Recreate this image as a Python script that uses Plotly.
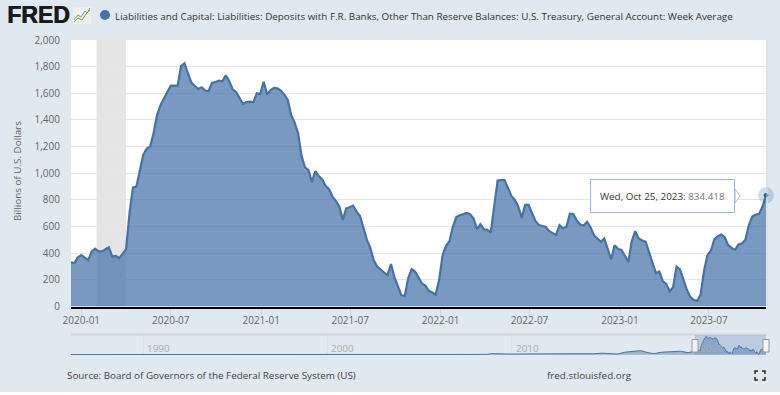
import pandas as pd
import plotly.graph_objects as go

W, H = 780, 392
BG = "#e1e9f0"
BLUE = "#4572a7"
FONT = "Open Sans"

TITLE = "Liabilities and Capital: Liabilities: Deposits with F.R. Banks, Other Than Reserve Balances: U.S. Treasury, General Account: Week Average"
Y_LABEL = "Billions of U.S. Dollars"
SOURCE = "Source: Board of Governors of the Federal Reserve System (US)"
SITE = "fred.stlouisfed.org"
TOOLTIP_DATE = "Wed, Oct 25, 2023:"
TOOLTIP_VALUE = "834.418"

FIRST_WEEK = "2019-12-11"
values = [
    332, 326, 369, 386, 366, 347, 411, 434, 414, 414, 430, 444, 374, 379, 362, 395, 429, 699, 892, 900,
    1020, 1137, 1185, 1200, 1300, 1437, 1510, 1565, 1610, 1657, 1657, 1657, 1805, 1825, 1750, 1680, 1655, 1632, 1645, 1620,
    1617, 1680, 1685, 1695, 1690, 1735, 1690, 1630, 1610, 1570, 1520, 1535, 1537, 1532, 1600, 1595, 1687, 1590, 1625, 1640,
    1637, 1620, 1590, 1550, 1437, 1380, 1300, 1130, 1045, 1025, 935, 1015, 980, 955, 905, 880, 825, 790, 750, 650,
    737, 745, 756, 711, 679, 590, 500, 440, 345, 300, 275, 255, 235, 319, 220, 150, 85, 78, 212, 280,
    262, 220, 172, 157, 118, 105, 88, 200, 385, 455, 490, 600, 672, 685, 695, 702, 692, 660, 580, 617,
    580, 575, 555, 750, 945, 949, 949, 890, 830, 800, 750, 665, 762, 762, 700, 640, 612, 605, 597, 565,
    550, 537, 610, 587, 599, 697, 694, 645, 615, 608, 636, 595, 535, 510, 485, 510, 440, 354, 460, 431,
    425, 385, 335, 491, 565, 510, 495, 487, 410, 335, 250, 262, 190, 170, 115, 145, 299, 278, 200, 125,
    72, 48, 42, 90, 270, 386, 420, 506, 527, 540, 520, 460, 440, 425, 465, 472, 500, 610, 675, 690,
    695, 750, 834.418,
]
dates = pd.date_range(FIRST_WEEK, periods=len(values), freq="7D")

history_dates = [
    "1986-01-01", "1995-01-01", "2003-01-01", "2007-06-01", "2008-09-01", "2008-12-01", "2009-06-01",
    "2010-01-01", "2011-01-01", "2012-01-01", "2013-01-01", "2013-10-01", "2014-06-01", "2014-12-01",
    "2015-06-01", "2015-10-01", "2016-03-01", "2016-09-01", "2017-01-01", "2017-06-01", "2017-10-01",
    "2018-03-01", "2018-09-01", "2019-03-01", "2019-08-01",
]
history_values = [
    10, 10, 10, 10, 30, 100, 70,
    60, 80, 70, 50, 60, 90, 150,
    140, 70, 250, 350, 400, 200, 110,
    250, 320, 340, 200,
]
nav_dates = list(pd.to_datetime(history_dates)) + list(dates)
nav_values = history_values + values

y_ticks = list(range(0, 2001, 200))
x_ticks = ["2020-01-01", "2020-07-01", "2021-01-01", "2021-07-01", "2022-01-01", "2022-07-01", "2023-01-01", "2023-07-01"]
x_tick_labels = ["2020-01", "2020-07", "2021-01", "2021-07", "2022-01", "2022-07", "2023-01", "2023-07"]
nav_ticks = ["1990-01-01", "2000-01-01", "2010-01-01", "2020-01-01"]
nav_tick_labels = ["1990", "2000", "2010", "2020"]
recession = ("2020-02-01", "2020-04-01")
nav_start, nav_end = "1986-02-01", "2023-10-25"


def px(x):
    return x / W


def py(y):
    return 1 - y / H


fig = go.Figure()
fig.add_trace(go.Scatter(x=dates, y=values, mode="lines", line=dict(color=BLUE, width=2.2),
                         fill="tozeroy", fillcolor="rgba(69,114,167,0.72)", hoverinfo="skip"))
fig.add_trace(go.Scatter(x=dates[-1:], y=values[-1:], mode="markers", cliponaxis=False,
                         marker=dict(size=16, color="rgba(69,114,167,0.25)"), hoverinfo="skip"))
fig.add_trace(go.Scatter(x=dates[-1:], y=values[-1:], mode="markers", cliponaxis=False,
                         marker=dict(size=4.5, color="#2f5486"), hoverinfo="skip"))
fig.add_trace(go.Scatter(x=nav_dates, y=nav_values, mode="lines", xaxis="x2", yaxis="y2",
                         line=dict(color=BLUE, width=1), fill="tozeroy",
                         fillcolor="rgba(69,114,167,0.45)", hoverinfo="skip"))

shapes = [
    dict(type="rect", xref="x", yref="paper", x0=recession[0], x1=recession[1],
         y0=py(306.5), y1=py(40), fillcolor="#e5e5e5", line_width=0, layer="below"),
    # soft right edge of the white plot panel
    dict(type="line", xref="paper", yref="paper", x0=px(767), x1=px(767), y0=py(306), y1=py(40),
         line=dict(color="#d6dde5", width=1)),
    # navigator background, frame and selection
    dict(type="rect", xref="paper", yref="paper", x0=px(71), x1=px(766), y0=py(355), y1=py(335),
         fillcolor=BG, line_width=0, layer="below"),
    dict(type="line", xref="paper", yref="paper", x0=px(71), x1=px(766), y0=py(334.5), y1=py(334.5),
         line=dict(color="#d2d6da", width=2)),
    dict(type="rect", xref="x2", yref="paper", x0=dates[0], x1=dates[-1], y0=py(354.5), y1=py(335),
         fillcolor="rgba(102,133,194,0.3)", line_width=0),
    dict(type="rect", xref="paper", yref="paper", x0=px(692), x1=px(698), y0=py(352), y1=py(339.5),
         fillcolor="#f2f2f2", line=dict(color="#999999", width=1)),
    dict(type="rect", xref="paper", yref="paper", x0=px(763), x1=px(769), y0=py(352), y1=py(339.5),
         fillcolor="#f2f2f2", line=dict(color="#999999", width=1)),
    # legend dot
    dict(type="circle", xref="paper", yref="paper", x0=px(100), x1=px(110), y0=py(20), y1=py(10),
         fillcolor=BLUE, line_width=0),
    # logo icon
    dict(type="rect", xref="paper", yref="paper", x0=px(73), x1=px(91), y0=py(24), y1=py(7),
         fillcolor="#eeeeea", line_width=0),
    dict(type="path", xref="paper", yref="paper",
         path=f"M {px(74)} {py(20)} L {px(78)} {py(15)} L {px(81)} {py(17)} L {px(85)} {py(11)} L {px(87)} {py(13)} L {px(90)} {py(8)}",
         line=dict(color="#8a9a9a", width=1)),
    dict(type="path", xref="paper", yref="paper",
         path=f"M {px(74)} {py(22)} L {px(78)} {py(18)} L {px(82)} {py(20)} L {px(86)} {py(14)} L {px(90)} {py(10)}",
         line=dict(color="#7fa83c", width=1)),
    # tooltip arrow
    dict(type="path", xref="paper", yref="paper",
         path=f"M {px(735)} {py(189)} L {px(740)} {py(196)} L {px(735)} {py(203)} Z",
         fillcolor="#ffffff", line=dict(color="#a9bfdc", width=1)),
]
# full-screen icon corners
for cx, cy, dx, dy in [(755, 371, 1, 1), (765, 371, -1, 1), (755, 380, 1, -1), (765, 380, -1, -1)]:
    shapes.append(dict(type="path", xref="paper", yref="paper",
                       path=f"M {px(cx + 3 * dx)} {py(cy)} L {px(cx)} {py(cy)} L {px(cx)} {py(cy + 3 * dy)}",
                       line=dict(color="#222222", width=1.5)))

annotations = [
    dict(text="<b>FRED</b>", x=px(5), y=py(15), xanchor="left", yanchor="middle", showarrow=False,
         font=dict(family="Liberation Sans", size=23, color="#1a1a1a", shadow="0.7px 0 0 #1a1a1a")),
    dict(text=TITLE, x=px(113), y=py(15.5), xanchor="left", yanchor="middle", showarrow=False,
         font=dict(family=FONT, size=9.85, color="#333333")),
    dict(text=Y_LABEL, x=px(17), y=py(171), xanchor="center", yanchor="middle", textangle=-90, showarrow=False,
         font=dict(family=FONT, size=9.85, color="#666666")),
    dict(text=SOURCE, x=px(65), y=py(375), xanchor="left", yanchor="middle", showarrow=False,
         font=dict(family=FONT, size=9.85, color="#444444")),
    dict(text=SITE, x=px(545), y=py(375), xanchor="left", yanchor="middle", showarrow=False,
         font=dict(family=FONT, size=9.85, color="#444444")),
    dict(text=f"{TOOLTIP_DATE} <span style='color:#777777'>{TOOLTIP_VALUE}</span>",
         x=px(662.5), y=py(196), xanchor="center", yanchor="middle", showarrow=False,
         font=dict(family=FONT, size=9.85, color="#333333"), bgcolor="#ffffff",
         bordercolor="#a0b8d8", borderwidth=1, borderpad=9),
]
for tick, label in zip(nav_ticks, nav_tick_labels):
    annotations.append(dict(text=label, x=tick, xref="x2", y=py(348), yref="paper", xanchor="left",
                            yanchor="middle", xshift=2, showarrow=False,
                            font=dict(family=FONT, size=9.85, color="#aaaaaa")))
for a in annotations:
    a.setdefault("xref", "paper")
    a.setdefault("yref", "paper")

fig.update_layout(
    width=W, height=H, margin=dict(l=0, r=0, t=0, b=0, autoexpand=False), autosize=False,
    paper_bgcolor=BG, plot_bgcolor="#ffffff", showlegend=False, hovermode=False,
    font=dict(family=FONT, size=10, color="#666666"),
    xaxis=dict(domain=[px(71), px(766)], anchor="y", type="date", range=[dates[0], dates[-1]],
               tickmode="array", tickvals=x_ticks, ticktext=x_tick_labels, ticks="outside", ticklen=8,
               tickcolor="#ccd6eb", tickwidth=1, showgrid=False, showline=True, linecolor="#000000",
               linewidth=2, zeroline=False, ticklabelstandoff=-5,
               tickfont=dict(family=FONT, size=10, color="#666666")),
    yaxis=dict(domain=[py(306.5), py(40)], anchor="x", range=[0, 2000], tickmode="array", tickvals=y_ticks,
               tickformat=",d", showgrid=True, gridcolor="#e6e6e6", gridwidth=1, zeroline=False, ticks="",
               ticklabelstandoff=10, tickfont=dict(family=FONT, size=10, color="#666666")),
    xaxis2=dict(domain=[px(71), px(766)], anchor="y2", type="date", range=[nav_start, nav_end],
                tickmode="array", tickvals=nav_ticks, showticklabels=False, ticks="",
                showgrid=True, gridcolor="#d8dfe6", zeroline=False),
    yaxis2=dict(domain=[py(355), py(335)], anchor="x2", range=[-30, 1950], showticklabels=False,
                showgrid=False, zeroline=False, ticks=""),
    shapes=shapes, annotations=annotations,
)

fig.write_html("out.html", config=dict(displayModeBar=False),
               post_script="document.body.style.margin='0';document.body.style.background='#ffffff';")
